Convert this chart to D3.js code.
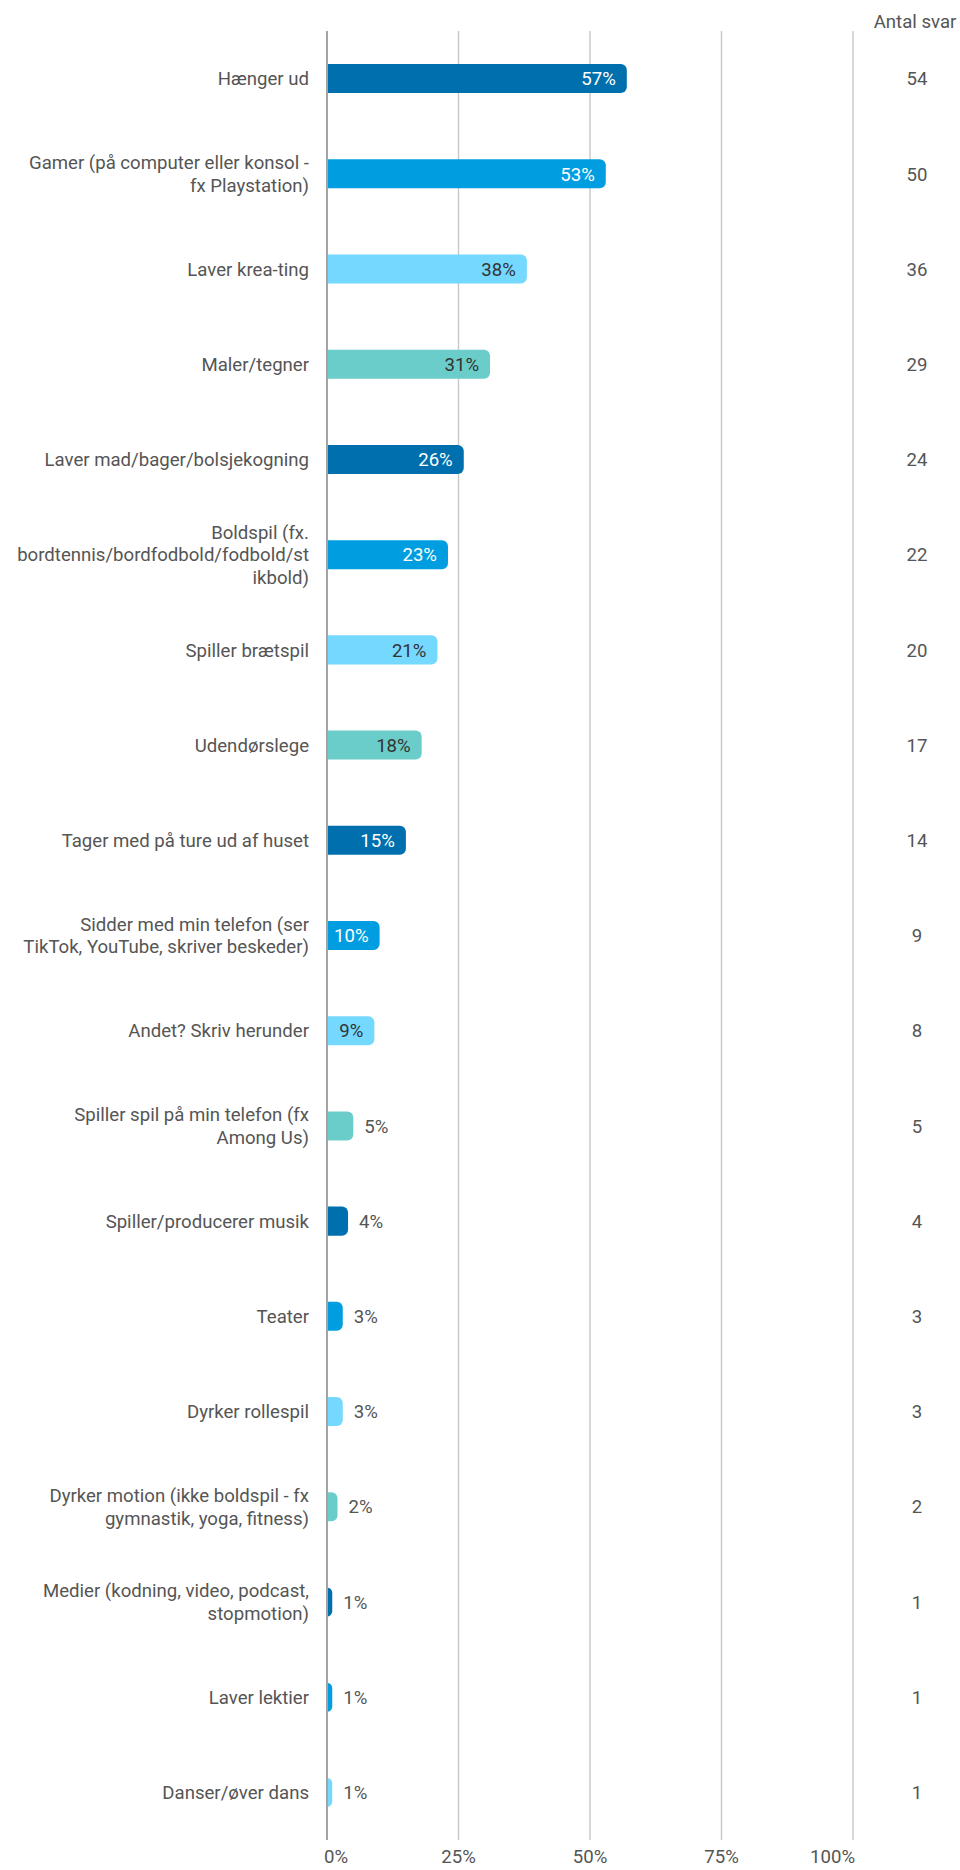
<!DOCTYPE html>
<html>
<head>
<meta charset="utf-8">
<script src="https://cdn.jsdelivr.net/npm/d3@7"></script>
<style>
  html, body { margin: 0; padding: 0; background: #fff; }
  svg { display: block; font-family: Roboto, "Noto Sans", sans-serif; }
</style>
</head>
<body>
<svg id="chart" width="960" height="1870"></svg>
<script>
// Activities (line breaks as shown on the axis)
const categories = [
  "Hænger ud",
  "Gamer (på computer eller konsol -\nfx Playstation)",
  "Laver krea-ting",
  "Maler/tegner",
  "Laver mad/bager/bolsjekogning",
  "Boldspil (fx.\nbordtennis/bordfodbold/fodbold/st\nikbold)",
  "Spiller brætspil",
  "Udendørslege",
  "Tager med på ture ud af huset",
  "Sidder med min telefon (ser\nTikTok, YouTube, skriver beskeder)",
  "Andet? Skriv herunder",
  "Spiller spil på min telefon (fx\nAmong Us)",
  "Spiller/producerer musik",
  "Teater",
  "Dyrker rollespil",
  "Dyrker motion (ikke boldspil - fx\ngymnastik, yoga, fitness)",
  "Medier (kodning, video, podcast,\nstopmotion)",
  "Laver lektier",
  "Danser/øver dans"
];
// Share of respondents (%)
const percents = [57, 53, 38, 31, 26, 23, 21, 18, 15, 10, 9, 5, 4, 3, 3, 2, 1, 1, 1];
// Number of answers
const counts = [54, 50, 36, 29, 24, 22, 20, 17, 14, 9, 8, 5, 4, 3, 3, 2, 1, 1, 1];
const xTicks = [0, 25, 50, 75, 100];
const countHeader = "Antal svar";

const palette = ["#006fad", "#009ee0", "#75d8ff", "#6bcdc9"];
const labelInk = ["#ffffff", "#ffffff", "#333333", "#333333"];

const plotTop = 31, plotBottom = 1840;
const svg = d3.select("#chart");

const x = d3.scaleLinear().domain([0, 100]).range([327, 853]);
const y = d3.scaleBand().domain(categories).range([plotTop, plotBottom])
  .paddingInner(0.695).paddingOuter(0.3475);
const color = d3.scaleOrdinal().domain(d3.range(4)).range(palette);

const fontSize = 18.6;
const lineH = 22.5;

// Gridlines
svg.append("g").selectAll("line").data(xTicks.slice(1)).join("line")
  .attr("x1", d => x(d)).attr("x2", d => x(d))
  .attr("y1", plotTop).attr("y2", plotBottom)
  .attr("stroke", "#c8c8c8").attr("stroke-width", 1.4);

// Bar with square left end and rounded right corners
function barPath(x0, y0, w, h, r) {
  r = Math.min(r, w, h / 2);
  const p = d3.path();
  p.moveTo(x0, y0);
  p.lineTo(x0 + w - r, y0);
  p.arcTo(x0 + w, y0, x0 + w, y0 + r, r);
  p.lineTo(x0 + w, y0 + h - r);
  p.arcTo(x0 + w, y0 + h, x0 + w - r, y0 + h, r);
  p.lineTo(x0, y0 + h);
  p.closePath();
  return p.toString();
}

const rows = categories.map((c, i) => ({ c, i, p: percents[i], n: counts[i] }));

svg.append("g").selectAll("path").data(rows).join("path")
  .attr("d", d => barPath(x(0), y(d.c), x(d.p) - x(0), y.bandwidth(), 6))
  .attr("fill", d => color(d.i % 4));

// Baseline axis
svg.append("line")
  .attr("x1", x(0)).attr("x2", x(0)).attr("y1", plotTop).attr("y2", plotBottom)
  .attr("stroke", "#a4a4a4").attr("stroke-width", 2);

// Value labels: inside the bar when it fits, otherwise just after it
const valG = svg.append("g").attr("font-size", fontSize);
valG.selectAll("text").data(rows).join("text")
  .text(d => d.p + "%")
  .attr("y", d => y(d.c) + y.bandwidth() / 2)
  .attr("dy", "0.36em")
  .each(function (d) {
    const t = d3.select(this);
    const tw = this.getComputedTextLength();
    const bw = x(d.p) - x(0);
    if (tw + 16 <= bw) {
      t.attr("x", x(d.p) - 11).attr("text-anchor", "end").attr("fill", labelInk[d.i % 4]);
    } else {
      t.attr("x", x(d.p) + 11).attr("text-anchor", "start").attr("fill", "#555555");
    }
  });

// Category labels
const catG = svg.append("g").attr("font-size", fontSize).attr("fill", "#555555")
  .attr("text-anchor", "end");
catG.selectAll("text").data(rows).join("text")
  .attr("x", x(0) - 18)
  .attr("y", d => y(d.c) + y.bandwidth() / 2)
  .each(function (d) {
    const lines = d.c.split("\n");
    const off = -(lines.length - 1) / 2 * lineH;
    d3.select(this).selectAll("tspan").data(lines).join("tspan")
      .attr("x", x(0) - 18)
      .attr("dy", (l, k) => (k === 0 ? off + fontSize * 0.36 : lineH))
      .text(l => l);
  });

// Answer counts column
svg.append("text")
  .attr("x", 915).attr("y", 21).attr("dy", "0.36em")
  .attr("text-anchor", "middle").attr("font-size", fontSize).attr("fill", "#555555")
  .text(countHeader);
svg.append("g").attr("font-size", fontSize).attr("fill", "#555555").attr("text-anchor", "middle")
  .selectAll("text").data(rows).join("text")
  .attr("x", 917)
  .attr("y", d => y(d.c) + y.bandwidth() / 2)
  .attr("dy", "0.36em")
  .text(d => d.n);

// X tick labels
svg.append("g").attr("font-size", fontSize).attr("fill", "#555555")
  .selectAll("text").data(xTicks).join("text")
  .attr("x", (d, i) => i === 0 ? x(d) - 3 : i === xTicks.length - 1 ? x(d) + 2 : x(d))
  .attr("text-anchor", (d, i) => i === 0 ? "start" : i === xTicks.length - 1 ? "end" : "middle")
  .attr("y", 1856).attr("dy", "0.36em")
  .text(d => d + "%");
</script>
</body>
</html>
